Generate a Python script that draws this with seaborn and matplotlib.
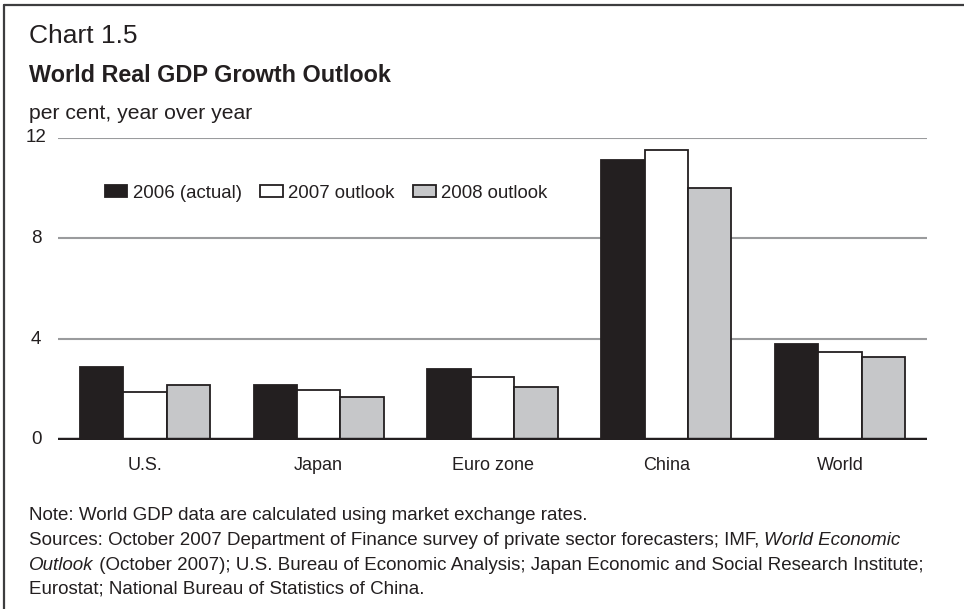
import matplotlib
matplotlib.use("Agg")
import matplotlib.pyplot as plt
import seaborn as sns
import pandas as pd
from matplotlib.patches import Patch
from matplotlib.lines import Line2D

# Real GDP growth, per cent, year over year
regions = ["U.S.", "Japan", "Euro zone", "China", "World"]
series = ["2006 (actual)", "2007 outlook", "2008 outlook"]
growth_2006 = [2.9, 2.2, 2.8, 11.1, 3.8]
growth_2007 = [1.9, 2.0, 2.5, 11.5, 3.5]
growth_2008 = [2.2, 1.7, 2.1, 10.0, 3.3]
y_ticks = [0, 4, 8, 12]

colors = ["#231f20", "#ffffff", "#c6c7c9"]
edge = "#231f20"
grid_col = "#9a9b9d"
txt = "#231f20"

df = pd.DataFrame({
    "region": regions * 3,
    "series": [series[0]] * 5 + [series[1]] * 5 + [series[2]] * 5,
    "growth": growth_2006 + growth_2007 + growth_2008,
})

sns.set_theme(style="white")
plt.rcParams["font.family"] = ["Liberation Sans", "DejaVu Sans"]

W, H = 964, 609
fig = plt.figure(figsize=(W / 100, H / 100), dpi=100)
ax_left, ax_right, ax_top, ax_bot = 58, 927, 137.5, 440
ax = fig.add_axes([ax_left / W, 1 - ax_bot / H,
                   (ax_right - ax_left) / W, (ax_bot - ax_top) / H])

sns.barplot(data=df, x="region", y="growth", hue="series", order=regions,
            hue_order=series, palette=colors, width=0.75, edgecolor=edge,
            linewidth=1.3, saturation=1, ax=ax, legend=False, zorder=3)

ax.set_ylim(0, 12)
ax.set_xlim(-0.5, len(regions) - 0.5)
ax.set_yticks(y_ticks)
ax.set_yticklabels([])
ax.yaxis.grid(True, color=grid_col, linewidth=1.5, zorder=0)
ax.xaxis.grid(False)
for s in ["top", "right", "left", "bottom"]:
    ax.spines[s].set_visible(False)
ax.axhline(0, color=edge, linewidth=3.2, zorder=4, solid_capstyle="butt")
ax.tick_params(axis="both", length=0)
ax.tick_params(axis="x", pad=12, labelsize=13, colors=txt)
ax.set_xlabel("")
ax.set_ylabel("")

# y tick labels sit left of the gridlines, centred on a common column
label_x = (36 - ax_left) / (ax_right - ax_left)
for v in y_ticks:
    ax.text(label_x, v, str(v), transform=ax.get_yaxis_transform(),
            ha="center", va="center", fontsize=13.5, color=txt)

handles = [Patch(facecolor=c, edgecolor=edge, linewidth=1.3, label=l)
           for c, l in zip(colors, series)]
ax.legend(handles=handles, loc="center left", bbox_to_anchor=(0.054, 0.8165),
          ncol=3, frameon=False, fontsize=13.4, handlelength=1.2,
          handleheight=0.6, handletextpad=0.3, columnspacing=1.0,
          borderpad=0, borderaxespad=0, labelcolor=txt)

fig.text(29 / W, 1 - 43 / H, "Chart 1.5", fontsize=19, color=txt, va="baseline")
fig.text(29 / W, 1 - 82 / H, "World Real GDP Growth Outlook", fontsize=16.8,
         fontweight="bold", color=txt, va="baseline")
fig.text(29 / W, 1 - 119 / H, "per cent, year over year", fontsize=15.2,
         color=txt, va="baseline")

renderer = fig.canvas.get_renderer()


def text_line(x_px, base_px, parts, size=13.5):
    """Write a line made of (text, italic) parts one after another."""
    x = x_px
    for s, it in parts:
        t = fig.text(x / W, 1 - base_px / H, s, fontsize=size, color=txt,
                     va="baseline", fontstyle="italic" if it else "normal")
        x += t.get_window_extent(renderer).width


text_line(29, 520, [("Note: World GDP data are calculated using market exchange rates.", False)])
text_line(29, 545, [("Sources: October 2007 Department of Finance survey of private sector "
                     "forecasters; IMF, ", False), ("World Economic", True)])
text_line(29, 570, [("Outlook", True), (" (October 2007); U.S. Bureau of Economic Analysis; "
                                         "Japan Economic and Social Research Institute;", False)])
text_line(29, 594, [("Eurostat; National Bureau of Statistics of China.", False)])

# frame lines along the top and left edges
fig.add_artist(Line2D([4 / W, 4 / W], [0, 1 - 5 / H], transform=fig.transFigure,
                      color="#3d3d3f", linewidth=1.6))
fig.add_artist(Line2D([4 / W, 1], [1 - 5 / H, 1 - 5 / H], transform=fig.transFigure,
                      color="#3d3d3f", linewidth=1.6))

fig.savefig("out.png", dpi=100)
